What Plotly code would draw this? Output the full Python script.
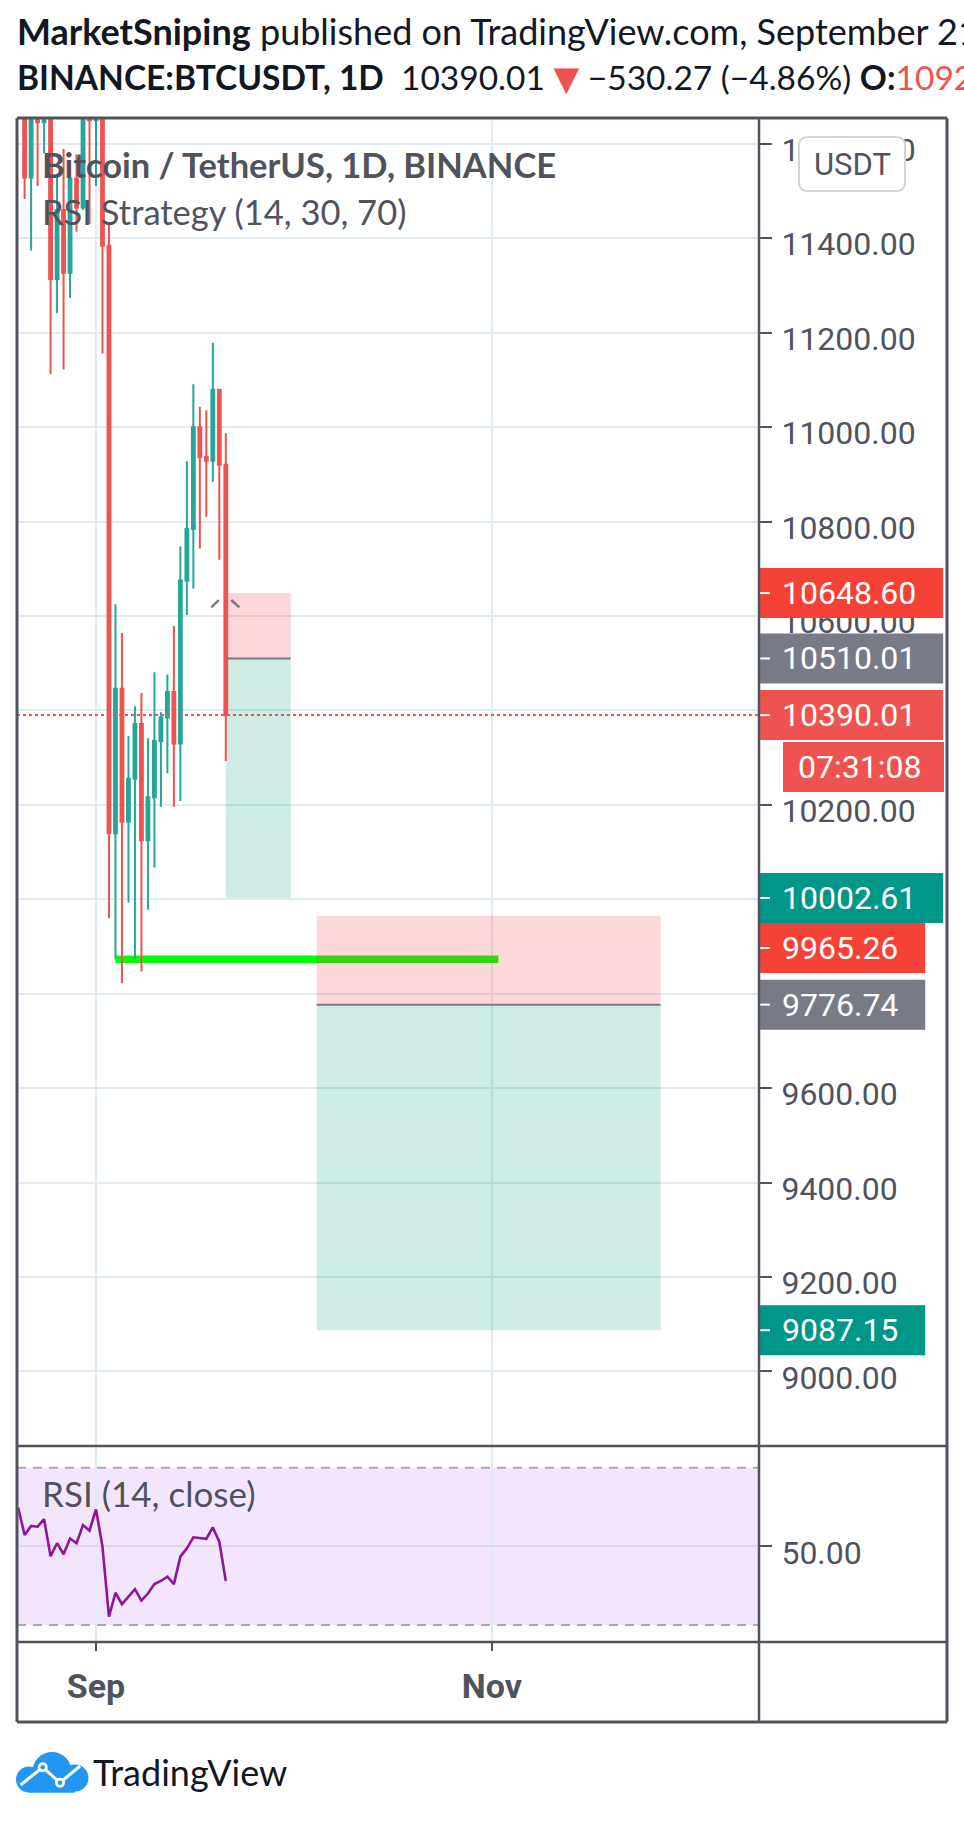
import plotly.graph_objects as go
import pandas as pd

# ---------------- data ----------------
dates = pd.date_range("2020-08-20", "2020-09-21", freq="D").strftime("%Y-%m-%d").tolist()
opens = [11754, 11866, 11529, 11681, 11646, 11755, 11314, 11460, 11327, 11526, 11465,
         11705, 11650, 11921, 11384, 10140, 10446, 10164, 10255, 10371, 10125, 10216,
         10335, 10385, 10439, 10330, 10675, 10784, 11000, 10937, 10929, 11079, 10920.28]
highs = [11880, 11888, 11718, 11718, 11824, 11770, 11530, 11589, 11545, 11578, 11720,
         11768, 12050, 11953, 11430, 10625, 10564, 10346, 10409, 10437, 10341, 10481,
         10396, 10476, 10579, 10747, 10928, 11091, 11043, 11036, 11179, 11079, 10987]
lows = [11668, 11483, 11374, 11511, 11580, 11112, 11241, 11122, 11274, 11414, 11460,
        11430, 11511, 11156, 9960, 9873, 9822, 9993, 9873, 9847, 9978, 10067,
        10196, 10267, 10196, 10208, 10602, 10658, 10743, 10810, 10884, 10719, 10293]
closes = [11866, 11529, 11681, 11646, 11755, 11314, 11460, 11327, 11526, 11465, 11705,
          11650, 11921, 11384, 10140, 10446, 10164, 10255, 10371, 10125, 10216, 10335,
          10385, 10439, 10330, 10675, 10784, 11000, 10937, 10929, 11079, 10920.28, 10390.01]
rsi = [59.9, 52.9, 55.2, 55.0, 56.9, 47.5, 50.8, 48.0, 52.0, 50.8, 55.4,
       54.0, 59.4, 49.9, 32.1, 38.2, 35.3, 37.2, 39.1, 36.2, 38.0, 40.4,
       41.2, 42.3, 40.4, 47.4, 49.5, 52.3, 52.1, 51.9, 54.8, 51.2, 41.2]

price_ticks = [9000, 9200, 9400, 9600, 9800, 10000, 10200, 10400, 10600, 10800,
               11000, 11200, 11400, 11600]
month_ticks = ["2020-09-01", "2020-11-01"]
month_labels = ["Sep", "Nov"]

# position tools: (start, end, stop, entry, target)
positions = [("2020-09-21", "2020-10-01", 10648.60, 10510.01, 10002.61),
             ("2020-10-05", "2020-11-27", 9965.26, 9776.74, 9087.15)]
support_start, support_end = "2020-09-04", "2020-11-02"
support_level = lows[dates.index(support_start)]
last_price = closes[-1]
countdown = "07:31:08"

# ---------------- styling / geometry ----------------
UP, DOWN = "#26a69a", "#ef5350"
GRID = "#e1ecf2"
FRAME = "#50535e"
TXT = "#50535e"
W, H = 964, 1822
PL, PR, PT, PB = 17, 759, 118, 1642      # plot area in px
SEP_Y = 1446                              # main / rsi separator
OUT_R, OUT_B = 947, 1722
PW, PH = PR - PL, PB - PT
d0 = (PB - SEP_Y) / PH
y_lo, y_hi = 8841.9, 11654.8
rsi_lo, rsi_hi = 25.68, 75.52
x_range = ["2020-08-19 19:52", "2020-12-12 03:46"]


def fx(px):
    return (px - PL) / PW


def fy(py):
    return (PB - py) / PH


def p2py(p):
    return SEP_Y - (p - y_lo) / (y_hi - y_lo) * (SEP_Y - PT)


def d2px(d):
    t0 = pd.Timestamp(x_range[0]); t1 = pd.Timestamp(x_range[1])
    return PL + (pd.Timestamp(d) - t0) / (t1 - t0) * PW


fig = go.Figure()
fig.add_trace(go.Candlestick(
    x=dates, open=opens, high=highs, low=lows, close=closes,
    increasing=dict(line=dict(color=UP, width=2), fillcolor=UP),
    decreasing=dict(line=dict(color=DOWN, width=2), fillcolor=DOWN),
    whiskerwidth=0, xaxis="x", yaxis="y", hoverinfo="skip"))
fig.add_trace(go.Scatter(
    x=dates, y=rsi, mode="lines", line=dict(color="#8e1599", width=2.6),
    xaxis="x", yaxis="y2", hoverinfo="skip"))

shapes = []
ann = []

# RSI band and bounds
shapes.append(dict(type="rect", xref="paper", yref="y2", x0=0, x1=1, y0=30, y1=70,
                   fillcolor="#f3e6fc", line=dict(width=0), layer="below"))
for lv in (30, 70):
    shapes.append(dict(type="line", xref="paper", yref="y2", x0=0, x1=1, y0=lv, y1=lv,
                       line=dict(color="#aea6b8", width=2, dash="9px,7px"), layer="between"))

# support trend line
shapes.append(dict(type="line", xref="x", yref="y", x0=support_start, x1=support_end,
                   y0=support_level, y1=support_level,
                   line=dict(color="#00ff00", width=7.5), layer="between"))

# position tools
for (s, e, stop, entry, target) in positions:
    shapes.append(dict(type="rect", xref="x", yref="y", x0=s, x1=e, y0=entry, y1=stop,
                       fillcolor="rgba(242,54,69,0.2)", line=dict(width=0), layer="between"))
    shapes.append(dict(type="rect", xref="x", yref="y", x0=s, x1=e, y0=target, y1=entry,
                       fillcolor="rgba(8,153,129,0.2)", line=dict(width=0), layer="between"))
    shapes.append(dict(type="line", xref="x", yref="y", x0=s, x1=e, y0=entry, y1=entry,
                       line=dict(color="#787b86", width=2), layer="between"))

# small tool icon near first position
bx, by = d2px(positions[0][0]), p2py(positions[0][2])
for (a, b, c, d) in [(-14.5, 14.3, -7, 7), (5.5, 7, 13.5, 14.3)]:
    shapes.append(dict(type="line", xref="paper", yref="paper",
                       x0=fx(bx + a), y0=fy(by + b), x1=fx(bx + c), y1=fy(by + d),
                       line=dict(color="#787b86", width=2.5), layer="above"))

# last price dotted line
shapes.append(dict(type="line", xref="paper", yref="y", x0=0, x1=1, y0=last_price, y1=last_price,
                   line=dict(color=DOWN, width=2, dash="dot"), layer="above"))

# price labels on axis
def twidth(s, size=32):
    return sum(0.2632 if ch in ".:" else 0.5615 for ch in s) * size


labels = [(positions[0][2], "#f44336"), (positions[0][3], "#787b86"), (last_price, "#ef5350"),
          (positions[0][4], "#009688"), (positions[1][2], "#f44336"),
          (positions[1][3], "#787b86"), (positions[1][4], "#009688")]
labels.sort(key=lambda t: -t[0])
prev_bottom = -1e9
BH = 50
for val, col in labels:
    txt = f"{val:.2f}"
    cy = p2py(val)
    top = cy - BH / 2
    if top < prev_bottom:
        top = prev_bottom
    cy = top + BH / 2
    right = PR + 50 + twidth(txt)
    shapes.append(dict(type="rect", xref="paper", yref="paper", x0=fx(PR - 1), x1=fx(right),
                       y0=fy(top + BH), y1=fy(top), fillcolor=col, line=dict(width=0), layer="above"))
    shapes.append(dict(type="line", xref="paper", yref="paper", x0=fx(PR), x1=fx(PR + 11),
                       y0=fy(cy), y1=fy(cy), line=dict(color="white", width=2), layer="above"))
    ann.append(dict(xref="paper", yref="paper", x=fx(PR + 21), y=fy(cy), xanchor="left",
                    yanchor="middle", text=txt, showarrow=False,
                    font=dict(family="Roboto", size=32, color="white")))
    prev_bottom = top + BH
    if val == last_price:
        ctop = top + BH + 2
        shapes.append(dict(type="rect", xref="paper", yref="paper", x0=fx(PR + 24), x1=fx(944),
                           y0=fy(ctop + BH), y1=fy(ctop), fillcolor="#ef5350",
                           line=dict(width=0), layer="above"))
        ann.append(dict(xref="paper", yref="paper", x=fx((PR + 24 + 944) / 2 - 4), y=fy(ctop + BH / 2),
                        xanchor="center", yanchor="middle", text=countdown, showarrow=False,
                        font=dict(family="Roboto", size=32, color="white")))
        prev_bottom = ctop + BH

# USDT button
def rrect(x0, y0, x1, y1, r):
    X = lambda v: fx(v); Y = lambda v: fy(v)
    return (f"M{X(x0+r)},{Y(y0)} L{X(x1-r)},{Y(y0)} Q{X(x1)},{Y(y0)} {X(x1)},{Y(y0+r)} "
            f"L{X(x1)},{Y(y1-r)} Q{X(x1)},{Y(y1)} {X(x1-r)},{Y(y1)} L{X(x0+r)},{Y(y1)} "
            f"Q{X(x0)},{Y(y1)} {X(x0)},{Y(y1-r)} L{X(x0)},{Y(y0+r)} Q{X(x0)},{Y(y0)} {X(x0+r)},{Y(y0)} Z")


shapes.append(dict(type="path", xref="paper", yref="paper", path=rrect(799, 137, 905, 191, 9),
                   fillcolor="white", line=dict(color="#d1d4dc", width=2), layer="above"))
ann.append(dict(xref="paper", yref="paper", x=fx(852), y=fy(164), xanchor="center", yanchor="middle",
                text="USDT", showarrow=False, font=dict(family="Roboto", size=31, color=TXT)))

# frame
for (x0, y0, x1, y1, w) in [(PL, PT, OUT_R, PT, 3), (PL, OUT_B, OUT_R, OUT_B, 3),
                            (PL, PT, PL, OUT_B, 3), (OUT_R, PT, OUT_R, OUT_B, 3),
                            (PR, PT, PR, OUT_B, 2.5), (PL, SEP_Y, OUT_R, SEP_Y, 2.5),
                            (PL, PB, OUT_R, PB, 2.5)]:
    shapes.append(dict(type="line", xref="paper", yref="paper", x0=fx(x0), y0=fy(y0),
                       x1=fx(x1), y1=fy(y1), line=dict(color=FRAME, width=w), layer="above"))

# TradingView logo
BLUE = "#2196f3"
for (cx, cy, r) in [(29, 1779.5, 13), (52, 1771.5, 19.5), (75, 1778, 13.5)]:
    shapes.append(dict(type="circle", xref="paper", yref="paper", x0=fx(cx - r), x1=fx(cx + r),
                       y0=fy(cy + r), y1=fy(cy - r), fillcolor=BLUE, line=dict(width=0), layer="above"))
shapes.append(dict(type="rect", xref="paper", yref="paper", x0=fx(29), x1=fx(75), y0=fy(1792.7),
                   y1=fy(1779), fillcolor=BLUE, line=dict(width=0), layer="above"))
pts = [(20.5, 1785), (42.7, 1767.3), (60, 1782.7), (80, 1766)]
path = "M" + " L".join(f"{fx(a)},{fy(b)}" for a, b in pts)
shapes.append(dict(type="path", xref="paper", yref="paper", path=path,
                   line=dict(color="white", width=3), layer="above"))
for (a, b) in pts[1:3]:
    shapes.append(dict(type="circle", xref="paper", yref="paper", x0=fx(a - 5), x1=fx(a + 5),
                       y0=fy(b + 5), y1=fy(b - 5), fillcolor="white", line=dict(width=0), layer="above"))
    shapes.append(dict(type="circle", xref="paper", yref="paper", x0=fx(a - 2.3), x1=fx(a + 2.3),
                       y0=fy(b + 2.3), y1=fy(b - 2.3), fillcolor=BLUE, line=dict(width=0), layer="above"))

# texts
HF = "Lato, 'DejaVu Sans'"
ann.append(dict(xref="paper", yref="paper", x=fx(15), y=fy(31), xanchor="left", yanchor="middle",
                showarrow=False, font=dict(family=HF, size=36, color="#131722"),
                text="<b>MarketSniping</b> published on TradingView.com, September 21, 2020"))
ann.append(dict(xref="paper", yref="paper", x=fx(15), y=fy(77), xanchor="left", yanchor="middle",
                showarrow=False, font=dict(family=HF, size=33.5, color="#131722"),
                text=("<b>BINANCE:BTCUSDT, 1D</b>\u00a0\u00a010390.01 <span style='color:#ef5350'>▼</span>"
                      " −530.27 (−4.86%) <b>O:</b><span style='color:#ef5350'>10920.28</span>")))
ann.append(dict(xref="paper", yref="paper", x=fx(40), y=fy(165), xanchor="left", yanchor="middle",
                showarrow=False, font=dict(family=HF, size=34.5, color=TXT),
                text="<b>Bitcoin / TetherUS, 1D, BINANCE</b>"))
ann.append(dict(xref="paper", yref="paper", x=fx(40), y=fy(211), xanchor="left", yanchor="middle",
                showarrow=False, font=dict(family=HF, size=34.5, color=TXT),
                text="RSI Strategy (14, 30, 70)"))
ann.append(dict(xref="paper", yref="paper", x=fx(40), y=fy(1493), xanchor="left", yanchor="middle",
                showarrow=False, font=dict(family=HF, size=35, color=TXT),
                text="RSI (14, close)"))
ann.append(dict(xref="paper", yref="paper", x=fx(91), y=fy(1772), xanchor="left", yanchor="middle",
                showarrow=False, font=dict(family=HF, size=36, color="#131722"),
                text="TradingView"))

axis_font = dict(family="Roboto", size=32, color=TXT)
fig.update_layout(
    width=W, height=H, margin=dict(l=PL, r=W - PR, t=PT, b=H - PB, pad=0),
    paper_bgcolor="white", plot_bgcolor="white", showlegend=False, hovermode=False,
    boxgap=0.38,
    xaxis=dict(type="date", range=x_range, domain=[0, 1], anchor="y2",
               rangeslider=dict(visible=False), showgrid=True, gridcolor=GRID, gridwidth=2,
               tickmode="array", tickvals=month_ticks, ticktext=month_labels,
               ticks="outside", ticklen=8, tickwidth=2, tickcolor=FRAME,
               tickfont=dict(family="Roboto", size=34, color=TXT, weight="bold"),
               ticklabelstandoff=6,
               showline=False, zeroline=False, fixedrange=True),
    yaxis=dict(domain=[d0, 1], range=[y_lo, y_hi], side="right", anchor="x",
               tickmode="array", tickvals=price_ticks, ticktext=[f"{v:.2f}" for v in price_ticks],
               ticks="outside", ticklen=12, tickwidth=2, tickcolor=FRAME, tickfont=axis_font,
               ticklabelstandoff=3, ticklabelshift=6,
               showgrid=True, gridcolor=GRID, gridwidth=2, zeroline=False, showline=False,
               fixedrange=True),
    yaxis2=dict(domain=[0, d0], range=[rsi_lo, rsi_hi], side="right", anchor="x",
                tickmode="array", tickvals=[50], ticktext=["50.00"],
                ticks="outside", ticklen=12, tickwidth=2, tickcolor=FRAME, tickfont=axis_font,
                ticklabelstandoff=3, ticklabelshift=6,
                showgrid=True, gridcolor="#dcd9ee", gridwidth=2, zeroline=False, showline=False,
                fixedrange=True),
    shapes=shapes, annotations=ann,
)

fig.write_html("out.html", config={"displayModeBar": False},
               post_script="document.body.style.margin='0';document.body.style.padding='0';")
